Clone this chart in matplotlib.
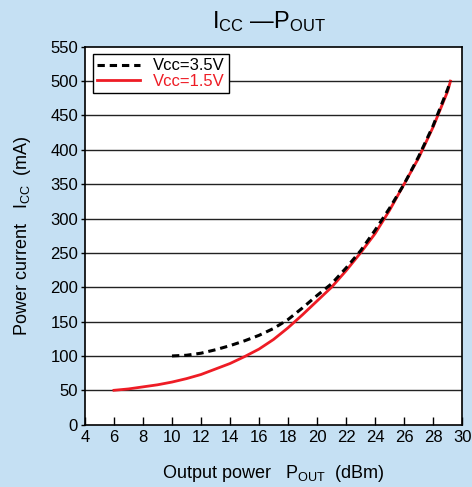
import matplotlib
matplotlib.use("Agg")
import matplotlib.pyplot as plt

plt.rcParams['font.family'] = ['Liberation Sans', 'DejaVu Sans']
plt.rcParams['mathtext.fontset'] = 'custom'
plt.rcParams['mathtext.rm'] = 'Liberation Sans'

# lectura de la figura: Pout (dBm) vs Icc (mA)
pout_35 = [10, 11, 12, 13, 14, 15, 16, 17, 18, 19, 20, 21, 22, 23, 24, 25, 26, 27, 28, 29, 29.2]
icc_35 = [100, 101, 104, 109, 115, 122, 130, 140, 153, 170, 188, 205, 228, 253, 283, 315, 350, 390, 435, 488, 500]

pout_15 = [6, 7, 8, 9, 10, 11, 12, 13, 14, 15, 16, 17, 18, 19, 20, 21, 22, 23, 24, 25, 26, 27, 28, 29, 29.2]
icc_15 = [50, 52, 55, 58, 62, 67, 73, 81, 89, 99, 110, 124, 141, 160, 180, 200, 224, 250, 278, 312, 350, 388, 433, 485, 500]

xticks = list(range(4, 31, 2))
yticks = list(range(0, 551, 50))

bg = '#C5E0F3'
rojo = '#EE1C25'

fig = plt.figure(figsize=(4.72, 4.87), dpi=100, facecolor=bg)
ax = fig.add_axes([0.180, 0.128, 0.799, 0.776])
ax.set_facecolor('white')

for y in yticks[1:-1]:
    ax.axhline(y, color='#222222', lw=1.0, zorder=1)

ax.plot(pout_35, icc_35, color='black', ls=(0, (2.4, 1.6)), lw=2.2, label='Vcc=3.5V', zorder=3)
ax.plot(pout_15, icc_15, color=rojo, lw=2.0, label='Vcc=1.5V', zorder=2)

ax.set_xlim(4, 30)
ax.set_ylim(0, 550)
ax.set_xticks(xticks)
ax.set_yticks(yticks)
ax.tick_params(axis='x', direction='in', length=6, width=1, labelsize=12, pad=4)
ax.tick_params(axis='y', direction='out', length=3, width=1, labelsize=12, pad=2)
for s in ax.spines.values():
    s.set_linewidth(1.2)

ax.set_xlabel(r'Output power   $\mathregular{P_{OUT}}$  (dBm)', fontsize=13, labelpad=13)
ax.set_ylabel(r'Power current   $\mathregular{I_{CC}}$  (mA)', fontsize=13, labelpad=12)
fig.text(0.57, 0.955, r'$\mathregular{I_{CC}}$ —$\mathregular{P_{OUT}}$', fontsize=17, ha='center', va='center')

leg = ax.legend(loc='upper left', bbox_to_anchor=(0.02, 0.98), fontsize=12, frameon=True,
                fancybox=False, framealpha=1, edgecolor='black', handlelength=2.6,
                borderpad=0.25, labelspacing=0.05, handletextpad=0.8, borderaxespad=0)
leg.get_frame().set_linewidth(1.0)
leg.get_texts()[1].set_color(rojo)

fig.savefig('out.png', dpi=100, facecolor=bg)
